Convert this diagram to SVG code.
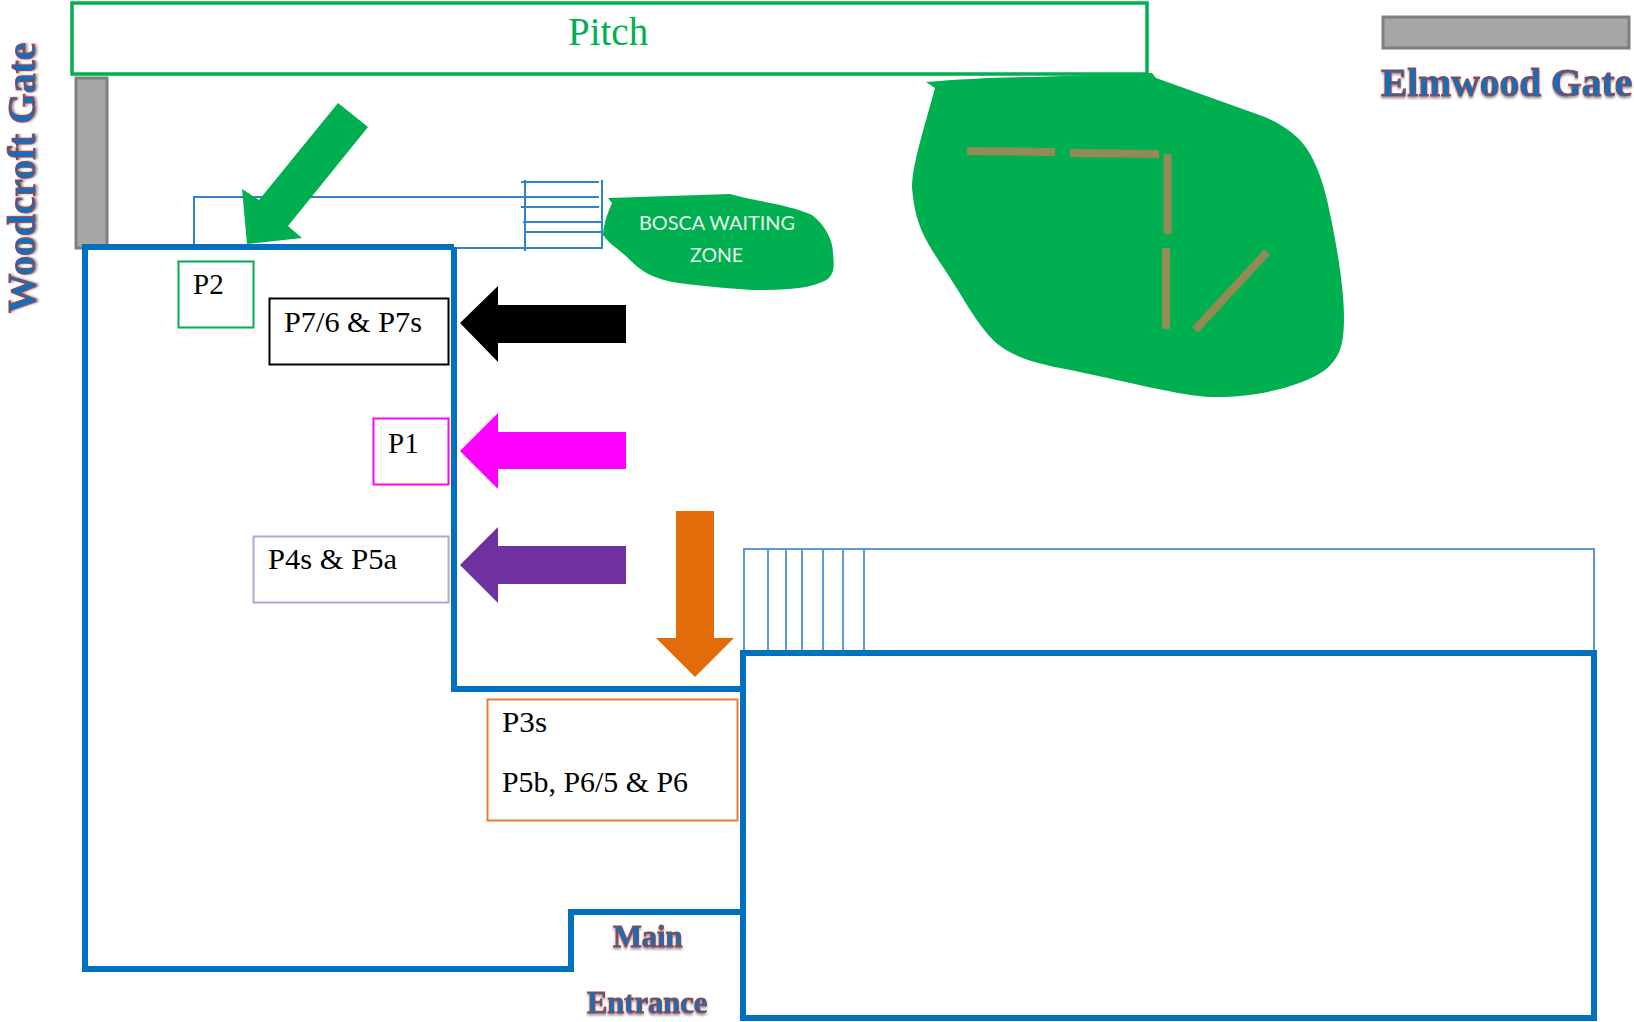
<svg xmlns="http://www.w3.org/2000/svg" width="1634" height="1022" viewBox="0 0 1634 1022">
<style>
.t{font-family:"Liberation Serif","Times New Roman",serif;font-size:29px;fill:#000}
.g{font-family:"Liberation Serif","Times New Roman",serif;font-weight:bold;fill:#0f6fc0;stroke:#a8403f;stroke-width:1px;filter:url(#sh)}
.wall{fill:none;stroke:#0070c0;stroke-width:6;stroke-linejoin:miter}
.thin{fill:none;stroke:#2e83cc;stroke-width:2}
.lite{fill:none;stroke:#5b9bd5;stroke-width:2}
.gate{fill:#a6a6a6;stroke:#7f7f7f;stroke-width:3}
.tan{stroke:#948a54;stroke-width:8;fill:none}
.box{fill:#fff;stroke-width:2}
.z{font-family:Lato,"Open Sans",sans-serif;font-size:20px;fill:#e8f5ec}
</style>
<defs><filter id="sh" x="-10%" y="-20%" width="120%" height="150%"><feDropShadow dx="0" dy="2" stdDeviation="1.2" flood-color="#555" flood-opacity=".6"/></filter></defs>
<rect width="1634" height="1022" fill="#fff"/>

<g id="grounds">
<path fill="#00b050" d="M926 82C960 79 1000 77 1034 77L1152 73L1156 78L1265 117C1285 126 1300 137 1309 152C1318 168 1322 180 1327 200C1335 235 1344 285 1344 317C1344 345 1340 358 1325 370C1300 388 1250 398 1212 397C1180 396 1130 382 1060 368C1030 362 1010 355 995 342C975 322 965 300 945 270C925 240 915 225 912 187C912 165 925 125 935 88Z"/>
<path class="tan" d="M967 151L1055 152M1070 153L1159 154M1167.500 154V234M1166 248V329M1267 252L1195 330"/>
</g>

<g id="pitch">
<rect x="72" y="3" width="1075" height="71" fill="none" stroke="#00b050" stroke-width="3.500"/>
<text x="568" y="45" font-family="Liberation Serif,serif" font-size="39" fill="#00b050">Pitch</text>
</g>

<g id="woodcroft-gate">
<rect class="gate" x="76" y="78" width="31" height="170"/>
<text class="g" transform="translate(35 313) rotate(-90)" font-size="39.500">Woodcroft Gate</text>
</g>
<g id="elmwood-gate">
<rect class="gate" x="1383" y="17" width="246" height="31"/>
<text class="g" x="1381" y="96" font-size="39.500">Elmwood Gate</text>
</g>

<g id="stairs-top">
<path class="thin" d="M194 248V197H599M454 248H602V180M521 182H599M521 207H599M523 222H602M525 232H602M525 180V251"/>
</g>
<g id="bosca-waiting-zone">
<path fill="#00b050" d="M608 198L730 194C760 202 790 205 812 215C825 225 833 240 833 253C834 265 835 272 828 279C810 290 780 290 752 290C725 288 700 286 672 282C650 277 640 270 630 260C618 248 610 245 603 235C604 222 608 212 612 203Z"/>
<text class="z" x="639" y="230" textLength="156" lengthAdjust="spacingAndGlyphs">BOSCA WAITING</text>
<text class="z" x="690" y="262" textLength="53" lengthAdjust="spacingAndGlyphs">ZONE</text>
</g>

<g id="stairs-bottom">
<path class="lite" d="M744 653V549H1594V653M768 549V653M786 549V653M802 549V653M823 549V653M843 549V653M864 549V653"/>
</g>

<g id="main-building">
<path class="wall" d="M454 247H85V969H571V912H743M454 247V689H743"/>
<rect class="wall" x="743" y="653" width="851" height="365"/>
</g>

<g id="p2">
<rect class="box" x="178.500" y="261.500" width="75" height="66" stroke="#00b050"/>
<text class="t" x="193" y="294">P2</text>
</g>
<g id="p7">
<rect class="box" x="269.500" y="298.500" width="179" height="66" stroke="#000"/>
<text class="t" x="284" y="332" textLength="138" lengthAdjust="spacingAndGlyphs">P7/6 &amp; P7s</text>
</g>
<g id="p1">
<rect class="box" x="373.500" y="418.500" width="75" height="66" stroke="#ff00ff"/>
<text class="t" x="388" y="453">P1</text>
</g>
<g id="p4">
<rect class="box" x="253.500" y="536.500" width="195" height="66" stroke="#b9a4d4"/>
<text class="t" x="268" y="569" textLength="129" lengthAdjust="spacingAndGlyphs">P4s &amp; P5a</text>
</g>
<g id="p3">
<rect class="box" x="487.500" y="699.500" width="250" height="121" stroke="#ed7d31"/>
<text class="t" x="502" y="732" textLength="45" lengthAdjust="spacingAndGlyphs">P3s</text>
<text class="t" x="502" y="792" textLength="186" lengthAdjust="spacingAndGlyphs">P5b, P6/5 &amp; P6</text>
</g>
<g id="main-entrance">
<text class="g" x="613" y="947" font-size="30.500">Main</text>
<text class="g" x="587" y="1013" font-size="30.500">Entrance</text>
</g>

<g id="connectors">
<polygon fill="#00b050" points="338,103 368,127 288,226 302,238 247,244 242,189 259,200"/>
<polygon fill="#000" points="460,323 498,286 498,305 626,305 626,343 498,343 498,362"/>
<polygon fill="#ff00ff" points="460,451 498,413 498,432 626,432 626,469 498,469 498,489"/>
<polygon fill="#7030a0" points="460,565 498,527 498,546 626,546 626,584 498,584 498,603"/>
<polygon fill="#e36c0a" points="676,511 714,511 714,638 734,638 695,677 656,638 676,638"/>
</g>
</svg>
